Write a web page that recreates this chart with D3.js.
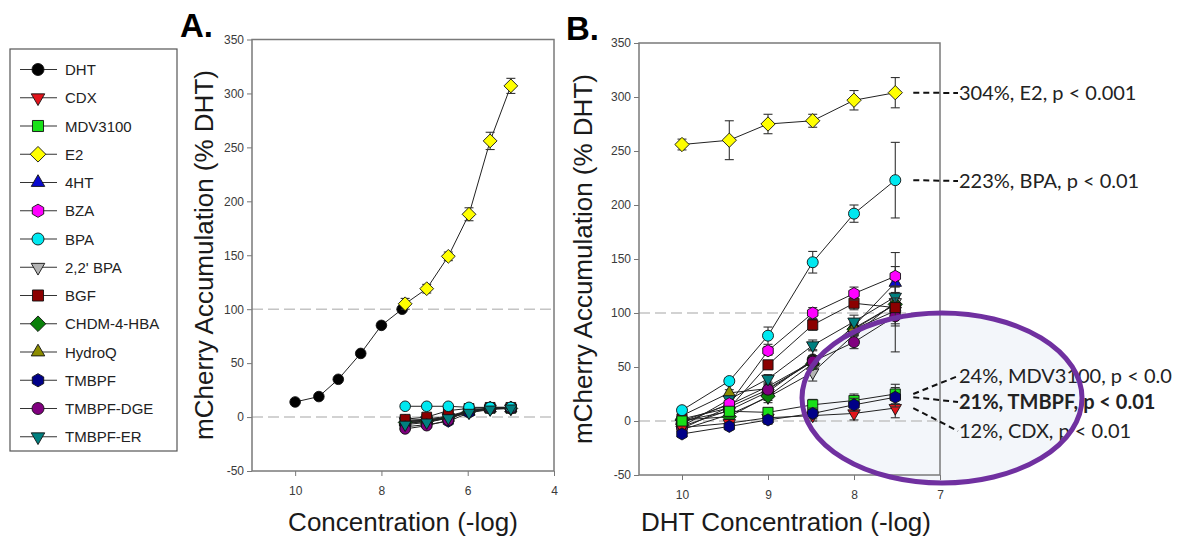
<!DOCTYPE html>
<html>
<head>
<meta charset="utf-8">
<script src="https://cdn.jsdelivr.net/npm/d3@7"></script>
<style>
  body { margin: 0; background: #fff; }
  svg { display: block; font-family: "Liberation Sans", Arial, sans-serif; }
</style>
</head>
<body>
<div class="chart"></div>
<script>
// compounds, in legend order
var compounds = ["DHT", "CDX", "MDV3100", "E2", "4HT", "BZA", "BPA", "2,2' BPA", "BGF",
  "CHDM-4-HBA", "HydroQ", "TMBPF", "TMBPF-DGE", "TMBPF-ER"];
var fills = ["#000000", "#e3141b", "#19e019", "#ffff00", "#0a0ad0", "#ff00ff", "#00e8f0",
  "#b4b4b4", "#8b0000", "#0a800a", "#8c8c00", "#000088", "#80007f", "#008080"];
var shapes = ["circle", "tridown", "square", "diamond", "triup", "hexagon", "circle",
  "tridown", "square", "diamond", "triup", "hexagon", "circle", "tridown"];

// Panel A: DHT dose response and compounds alone
var aDhtX = [10, 9.45, 9, 8.48, 8, 7.52];
var aDhtY = [14, 19, 35, 59, 85, 100];
var aCmpX = [7.45, 6.95, 6.45, 5.97, 5.48, 5.0];
var aValues = {
  "CDX":        [-4, -3, 0, 5, 8, 8],
  "MDV3100":    [-3, -2, 1, 6, 8, 8],
  "4HT":        [-5, -4, -1, 5, 8, 8],
  "BZA":        [-6, -4, 0, 6, 8, 9],
  "2,2' BPA":   [-4, -3, 0, 5, 8, 8],
  "CHDM-4-HBA": [-5, -4, -1, 5, 8, 8],
  "HydroQ":     [-4, -3, 0, 5, 8, 8],
  "BGF":        [-2, 0, 6, 8, 9, 9],
  "TMBPF":      [-9, -7, -4, 4, 8, 8],
  "TMBPF-DGE":  [-11, -8, -3, 7, 8, 8],
  "BPA":        [10, 10, 10, 9, 9, 9],
  "TMBPF-ER":   [-7, -5, -1, 4, 7, 8],
  "E2":         [105, 119, 149, 188, 256, 307]
};
var aE2Err = [5, 4, 4, 6, 8, 7];

// Panel B: DHT dose response with compound co-treatment
var bX = [10, 9.45, 9, 8.48, 8, 7.52];
var bValues = {
  "2,2' BPA":   [-8, 6, 22, 45, 80, 110],
  "4HT":        [0, 15, 32, 55, 88, 128],
  "DHT":        [-5, 10, 27, 57, 85, 102],
  "CHDM-4-HBA": [1, 4, 23, 53, 85, 108],
  "HydroQ":     [5, 26, 30, 55, 86, 108],
  "TMBPF-DGE":  [-7, 13, 29, 55, 73, 97],
  "TMBPF-ER":   [-5, 20, 39, 70, 92, 115],
  "BGF":        [2, 12, 52, 89, 109, 105],
  "BZA":        [-2, 16, 65, 100, 118, 134],
  "CDX":        [-6, -2, 3, 5, 7, 12],
  "MDV3100":    [0, 9, 8, 15, 19, 25],
  "TMBPF":      [-12, -5, 1, 7, 15, 22],
  "BPA":        [10, 37, 79, 147, 192, 223],
  "E2":         [256, 260, 275, 278, 297, 304]
};
var bErrors = {
  "2,2' BPA": [3, 4, 5, 8, 10, 46],
  "DHT":      [2, 3, 4, 9, 6, 12],
  "BPA":      [3, 3, 8, 10, 8, 35],
  "E2":       [5, 18, 9, 6, 9, 14]
};
var bDefaultErr = [2, 3, 4, 5, 6, 9];

var yTicks = [-50, 0, 50, 100, 150, 200, 250, 300, 350];
var aXTicks = [10, 8, 6, 4];
var bXTicks = [10, 9, 8, 7];

// right-side call-outs in panel B (last one is cut at the page edge in the original)
var notes = [
  {name: "E2", text: "304%, E2, p < 0.001", bold: false, ty: 100},
  {name: "BPA", text: "223%, BPA, p < 0.01", bold: false, ty: 188},
  {name: "MDV3100", text: "24%, MDV3100, p < 0.0", bold: false, ty: 383},
  {name: "TMBPF", text: "21%, TMBPF, p < 0.01", bold: true, ty: 409},
  {name: "CDX", text: "12%, CDX, p < 0.01", bold: false, ty: 438}
];

var svg = d3.select(".chart").append("svg")
  .attr("width", 1180).attr("height", 540);

function symbolPath(shape, r) {
  var p = d3.path();
  if (shape === "circle") {
    p.arc(0, 0, r, 0, 2 * Math.PI);
  } else if (shape === "square") {
    var s = r * 0.92;
    p.rect(-s, -s, 2 * s, 2 * s);
  } else if (shape === "diamond") {
    var d = r * 1.3;
    p.moveTo(0, -d); p.lineTo(d, 0); p.lineTo(0, d); p.lineTo(-d, 0); p.closePath();
  } else if (shape === "triup" || shape === "tridown") {
    var t = r * 1.3, sg = shape === "triup" ? 1 : -1;
    p.moveTo(0, -t * sg);
    p.lineTo(t * 0.866, t * 0.5 * sg);
    p.lineTo(-t * 0.866, t * 0.5 * sg);
    p.closePath();
  } else if (shape === "hexagon") {
    var h = r * 1.1;
    for (var k = 0; k < 6; k++) {
      var a = Math.PI / 6 + k * Math.PI / 3;
      if (k === 0) p.moveTo(h * Math.cos(a), h * Math.sin(a));
      else p.lineTo(h * Math.cos(a), h * Math.sin(a));
    }
    p.closePath();
  }
  return p.toString();
}

function styleOf(name) {
  var i = compounds.indexOf(name);
  return {fill: fills[i], shape: shapes[i]};
}

var tickFmt = function(d) { return String(d); };  // plain hyphen for negatives

function drawFrame(g, x, y, xTicks) {
  var x0 = x.range()[0], x1 = x.range()[1], y0 = y.range()[0], y1 = y.range()[1];
  // reference lines at 100% and 0%
  [100, 0].forEach(function(v) {
    g.append("line")
      .attr("x1", x0).attr("x2", x1)
      .attr("y1", y(v)).attr("y2", y(v))
      .attr("stroke", "#c4c4c4").attr("stroke-width", 1.5)
      .attr("stroke-dasharray", "11,5");
  });
  var ya = g.append("g").attr("transform", "translate(" + x0 + ",0)")
    .call(d3.axisLeft(y).tickValues(yTicks).tickFormat(tickFmt).tickSize(5).tickPadding(3));
  var xa = g.append("g").attr("transform", "translate(0," + y0 + ")")
    .call(d3.axisBottom(x).tickValues(xTicks).tickFormat(tickFmt).tickSize(5).tickPadding(10));
  [ya, xa].forEach(function(a) {
    a.select(".domain").remove();
    a.selectAll("line").attr("stroke", "#777");
    a.selectAll("text").attr("fill", "#3a3a3a").style("font-size", "12px")
      .style("font-family", "'Liberation Sans', Arial, sans-serif");
  });
  g.append("rect")
    .attr("x", x0).attr("y", y1)
    .attr("width", x1 - x0).attr("height", y0 - y1)
    .attr("fill", "none").attr("stroke", "#7a7a7a").attr("stroke-width", 1.5);
}

function drawSeries(g, x, y, xs, ys, errs, name, r) {
  var st = styleOf(name);
  var pts = xs.map(function(v, i) { return {x: v, y: ys[i], e: errs ? errs[i] : 0}; });
  g.append("path").datum(pts)
    .attr("fill", "none").attr("stroke", "#222").attr("stroke-width", 1)
    .attr("d", d3.line().x(function(d) { return x(d.x); }).y(function(d) { return y(d.y); }));
  var eb = g.append("g").attr("stroke", "#333").attr("stroke-width", 1.1);
  pts.forEach(function(d) {
    if (!d.e) return;
    var cx = x(d.x);
    eb.append("line").attr("x1", cx).attr("x2", cx).attr("y1", y(d.y + d.e)).attr("y2", y(d.y - d.e));
    eb.append("line").attr("x1", cx - 4.5).attr("x2", cx + 4.5).attr("y1", y(d.y + d.e)).attr("y2", y(d.y + d.e));
    eb.append("line").attr("x1", cx - 4.5).attr("x2", cx + 4.5).attr("y1", y(d.y - d.e)).attr("y2", y(d.y - d.e));
  });
  g.selectAll(null).data(pts).enter().append("path")
    .attr("transform", function(d) { return "translate(" + x(d.x) + "," + y(d.y) + ")"; })
    .attr("d", symbolPath(st.shape, r))
    .attr("fill", st.fill).attr("stroke", "#111").attr("stroke-width", 0.9);
}

function yLabel(xpos, ymid) {
  svg.append("text")
    .attr("transform", "translate(" + xpos + "," + ymid + ") rotate(-90)")
    .attr("text-anchor", "middle")
    .style("font-size", "26px").attr("fill", "#1a1a1a")
    .text("mCherry Accumulation (% DHT)");
}

// ---------- Panel A ----------
var xA = d3.scaleLinear().domain([11, 4]).range([252, 554]);
var yA = d3.scaleLinear().domain([-50, 350]).range([471, 39.5]);
var gA = svg.append("g");
drawFrame(gA, xA, yA, aXTicks);
drawSeries(gA, xA, yA, aDhtX, aDhtY, null, "DHT", 5.3);
Object.keys(aValues).forEach(function(name) {
  drawSeries(gA, xA, yA, aCmpX, aValues[name], name === "E2" ? aE2Err : null, name, 5.3);
});
svg.append("text").attr("x", 180).attr("y", 37)
  .style("font-size", "33px").style("font-weight", "bold").text("A.");
yLabel(213, 255);
svg.append("text").attr("x", 403).attr("y", 531).attr("text-anchor", "middle")
  .style("font-size", "26px").attr("fill", "#1a1a1a").text("Concentration (-log)");

// ---------- Panel B ----------
var xB = d3.scaleLinear().domain([10.5, 7]).range([639, 940]);
var yB = d3.scaleLinear().domain([-50, 350]).range([475, 43]);
var gB = svg.append("g");
drawFrame(gB, xB, yB, bXTicks);

// light tint of the highlight ellipse sits under the marks
var ell = {cx: 942, cy: 398, rx: 140, ry: 85};
svg.append("ellipse")
  .attr("cx", ell.cx).attr("cy", ell.cy).attr("rx", ell.rx).attr("ry", ell.ry)
  .attr("fill", "#f3f6fa");
gB.raise();

Object.keys(bValues).forEach(function(name) {
  drawSeries(gB, xB, yB, bX, bValues[name], bErrors[name] || bDefaultErr, name, 5.5);
});
svg.append("text").attr("x", 566).attr("y", 40)
  .style("font-size", "33px").style("font-weight", "bold").text("B.");
yLabel(592, 259);
svg.append("text").attr("x", 786).attr("y", 531).attr("text-anchor", "middle")
  .style("font-size", "26px").attr("fill", "#1a1a1a").text("DHT Concentration (-log)");

// call-outs
var lastX = bX[bX.length - 1];
notes.forEach(function(n) {
  var vals = bValues[n.name];
  var sy = yB(vals[vals.length - 1]);
  svg.append("line")
    .attr("x1", xB(lastX) + 18).attr("y1", sy)
    .attr("x2", 958).attr("y2", n.ty - 7)
    .attr("stroke", "#111").attr("stroke-width", 2).attr("stroke-dasharray", "6,4");
  svg.append("text").attr("x", 959).attr("y", n.ty)
    .style("font-family", "Lato, 'Open Sans', sans-serif")
    .style("font-size", "20px")
    .style("font-weight", n.bold ? "bold" : "normal")
    .attr("fill", "#222").text(n.text);
});

// ellipse outline over everything
svg.append("ellipse")
  .attr("cx", ell.cx).attr("cy", ell.cy).attr("rx", ell.rx).attr("ry", ell.ry)
  .attr("fill", "none")
  .attr("stroke", "#7030a0").attr("stroke-width", 5);

// ---------- Legend ----------
var lg = svg.append("g");
lg.append("rect").attr("x", 10).attr("y", 49).attr("width", 167).attr("height", 402)
  .attr("fill", "#fff").attr("stroke", "#555").attr("stroke-width", 1.2);
compounds.forEach(function(name, i) {
  var ly = 69.5 + i * 28.25;
  var st = styleOf(name);
  lg.append("line").attr("x1", 20).attr("x2", 57).attr("y1", ly).attr("y2", ly)
    .attr("stroke", "#333").attr("stroke-width", 1.2);
  lg.append("path").attr("transform", "translate(38," + ly + ")")
    .attr("d", symbolPath(st.shape, 6))
    .attr("fill", st.fill).attr("stroke", "#111").attr("stroke-width", 0.9);
  lg.append("text").attr("x", 65).attr("y", ly + 5.5)
    .style("font-size", "15px").attr("fill", "#222").text(name);
});
</script>
</body>
</html>
